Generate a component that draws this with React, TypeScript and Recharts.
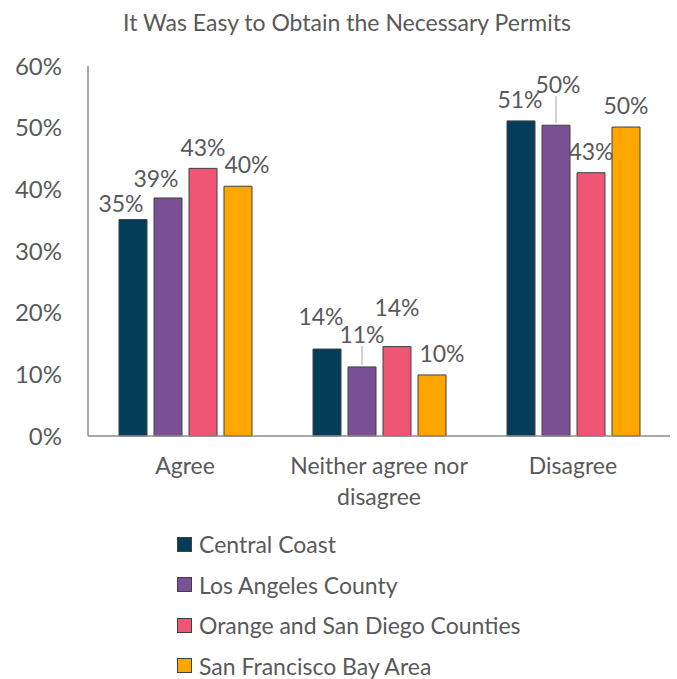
import React from 'react';
import { BarChart, Bar, XAxis, YAxis, LabelList } from 'recharts';

const categories = ['Agree', 'Neither agree nor disagree', 'Disagree'];
const seriesNames = ['Central Coast', 'Los Angeles County', 'Orange and San Diego Counties', 'San Francisco Bay Area'];
const centralCoast = [35.1, 14.1, 51.1];
const losAngeles = [38.6, 11.2, 50.4];
const orangeSanDiego = [43.4, 14.5, 42.7];
const sanFrancisco = [40.5, 9.9, 50.1];
const valueLabels = [
  ['35%', '14%', '51%'],
  ['39%', '11%', '50%'],
  ['43%', '14%', '43%'],
  ['40%', '10%', '50%'],
];
const yTicks = [0, 10, 20, 30, 40, 50, 60];

const colors = ['#023d5a', '#7a5195', '#ef5675', '#ffa600'];
const FONT = 'Lato, "Open Sans", sans-serif';
const TEXT = '#595959';

// label placement tweaks (like the hand-moved labels in the original), [dx, dy, leader]
const nudges: [number, number, boolean][][] = [
  [[-12, -17, false], [-6, -33, false], [-1, -22, false]],
  [[-12, -20, false], [0, -33, true], [2, -41, true]],
  [[0, -21, false], [0, -40, false], [0, -22, false]],
  [[9, -22, false], [10, -22, false], [0, -22, false]],
];

const allSeries = [centralCoast, losAngeles, orangeSanDiego, sanFrancisco];

const data = categories.map((name, i) => {
  const row: any = { name };
  seriesNames.forEach((s, j) => {
    row[s] = allSeries[j][i];
  });
  return row;
});

// simple word wrap by character count
const wrap = (s: string, max: number) => {
  const lines: string[] = [];
  let cur = '';
  s.split(' ').forEach((w) => {
    if (cur && (cur + ' ' + w).length > max) {
      lines.push(cur);
      cur = w;
    } else {
      cur = cur ? cur + ' ' + w : w;
    }
  });
  if (cur) lines.push(cur);
  return lines;
};

const makeLabel = (seriesIdx: number) => (props: any) => {
  const { x, y, width, index } = props;
  const [dx, dy, leader] = nudges[seriesIdx][index];
  const cx = x + width / 2 + dx;
  const cy = y + dy;
  return (
    <g>
      {leader && (
        <line x1={x + width / 2} y1={y - 2} x2={x + width / 2} y2={cy + 12} stroke="#a6a6a6" strokeWidth={1} />
      )}
      <text x={cx} y={cy} textAnchor="middle" dominantBaseline="central" fontFamily={FONT} fontSize={23} fill={TEXT}>
        {valueLabels[seriesIdx][index]}
      </text>
    </g>
  );
};

const CategoryTick = (props: any) => {
  const { x, y, payload } = props;
  const lines = wrap(payload.value, 18);
  return (
    <text x={x} y={y} textAnchor="middle" fontFamily={FONT} fontSize={23} fill={TEXT}>
      {lines.map((l, i) => (
        <tspan key={i} x={x} dy={i === 0 ? 30 : 31}>
          {l}
        </tspan>
      ))}
    </text>
  );
};

const App: React.FC = () => {
  return (
    <div style={{ position: 'absolute', left: 0, top: 0, width: 677, height: 679, background: '#fff', fontFamily: FONT }}>
      <div
        style={{
          position: 'absolute',
          left: 0,
          top: 7,
          width: 694,
          textAlign: 'center',
          fontSize: 23,
          color: TEXT,
          lineHeight: '30px',
        }}
      >
        It Was Easy to Obtain the Necessary Permits
      </div>
      <BarChart
        width={677}
        height={679}
        data={data}
        margin={{ top: 66, right: 7, bottom: 183, left: 8 }}
        barSize={28}
        barGap={7}
      >
        <XAxis
          dataKey="name"
          tick={<CategoryTick />}
          tickLine={false}
          axisLine={{ stroke: '#8c8c8c', strokeWidth: 1.5 }}
          height={60}
          interval={0}
        />
        <YAxis
          width={80}
          domain={[0, 60]}
          ticks={yTicks}
          tickFormatter={(v: number) => `${v}%`}
          tick={{ fontFamily: FONT, fontSize: 24, fill: TEXT }}
          tickLine={false}
          tickMargin={20}
          axisLine={{ stroke: '#8c8c8c', strokeWidth: 1.5 }}
        />
        {seriesNames.map((s, j) => (
          <Bar key={s} dataKey={s} fill={colors[j]} stroke="#404040" strokeWidth={1} isAnimationActive={false}>
            <LabelList dataKey={s} content={makeLabel(j)} />
          </Bar>
        ))}
      </BarChart>
      <div style={{ position: 'absolute', left: 177, top: 524 }}>
        {seriesNames.map((s, j) => (
          <div key={s} style={{ display: 'flex', alignItems: 'center', height: 40.5, fontSize: 23, color: TEXT }}>
            <span
              style={{
                display: 'inline-block',
                width: 13,
                height: 13,
                background: colors[j],
                border: '1px solid #404040',
                marginRight: 7,
              }}
            />
            {s}
          </div>
        ))}
      </div>
    </div>
  );
};

export default App;
